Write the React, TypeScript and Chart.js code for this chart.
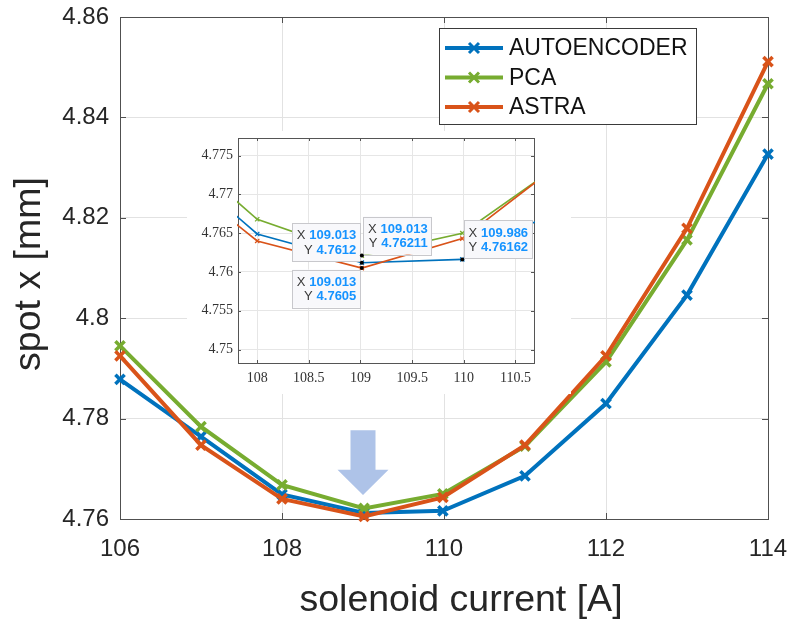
import React, { useEffect, useRef } from 'react';
import { Chart, registerables } from 'chart.js';

Chart.register(...registerables);

// ---------------- data ----------------
const currents = [106, 107, 108, 109.013, 109.986, 111, 112, 113, 114];
const autoencoder = [4.7878, 4.7764, 4.7649, 4.7612, 4.76162, 4.7686, 4.783, 4.8046, 4.8327];
const pca = [4.7945, 4.7784, 4.7668, 4.76211, 4.765, 4.7745, 4.7913, 4.8156, 4.8467];
const astra = [4.7925, 4.7747, 4.764, 4.7605, 4.7643, 4.7747, 4.7925, 4.8179, 4.8511];

const seriesNames = ['AUTOENCODER', 'PCA', 'ASTRA'];
const seriesValues = [autoencoder, pca, astra];
const seriesColors = ['#0072BD', '#77AC30', '#D95319'];
const seriesOrder = [2, 1, 0];

const mainXTicks = [106, 108, 110, 112, 114];
const mainYTicks = [4.76, 4.78, 4.8, 4.82, 4.84, 4.86];
const insetXTicks = [108, 108.5, 109, 109.5, 110, 110.5];
const insetYTicks = [4.75, 4.755, 4.76, 4.765, 4.77, 4.775];

const xTitle = 'solenoid current [A]';
const yTitle = 'spot x [mm]';

// data tips shown in the inset (value pairs + which side the box sits)
const tipX = [109.013, 109.013, 109.013, 109.986];
const tipY = [4.7612, 4.76211, 4.7605, 4.76162];
const tipSide = ['upLeft', 'upRight', 'downLeft', 'upRight'];

// arrow annotation (data coords)
const arrowX = 109;
const arrowTop = 4.7777;
const arrowHead = 4.7698;
const arrowTip = 4.7648;

const SANS = '"Liberation Sans", Arial, Helvetica, sans-serif';
const SERIF = '"Liberation Serif", "Times New Roman", serif';
const TEXT = '#262626';

function fmt(v: number, d: number) {
  return String(Number(v.toFixed(d)));
}

function zeroPad(s: any) {
  s.paddingLeft = 0;
  s.paddingRight = 0;
  s.paddingTop = 0;
  s.paddingBottom = 0;
}

function boxTicksPlugin(id: string, xt: number[], yt: number[], len: number, color: string) {
  return {
    id,
    beforeDatasetsDraw(chart: any) {
      const { ctx, chartArea: a, scales } = chart;
      ctx.save();
      ctx.strokeStyle = color;
      ctx.lineWidth = 1;
      ctx.beginPath();
      for (const v of xt) {
        const x = Math.round(scales.x.getPixelForValue(v)) + 0.5;
        ctx.moveTo(x, a.bottom);
        ctx.lineTo(x, a.bottom - len);
        ctx.moveTo(x, a.top);
        ctx.lineTo(x, a.top + len);
      }
      for (const v of yt) {
        const y = Math.round(scales.y.getPixelForValue(v)) + 0.5;
        ctx.moveTo(a.left, y);
        ctx.lineTo(a.left + len, y);
        ctx.moveTo(a.right, y);
        ctx.lineTo(a.right - len, y);
      }
      ctx.stroke();
      ctx.strokeRect(Math.round(a.left) + 0.5, Math.round(a.top) + 0.5, Math.round(a.right - a.left), Math.round(a.bottom - a.top));
      ctx.restore();
    },
  };
}

const arrowPlugin = {
  id: 'arrow',
  beforeDatasetsDraw(chart: any) {
    const { ctx, scales } = chart;
    const x = scales.x.getPixelForValue(arrowX);
    const y0 = scales.y.getPixelForValue(arrowTop);
    const y1 = scales.y.getPixelForValue(arrowHead);
    const y2 = scales.y.getPixelForValue(arrowTip);
    ctx.save();
    ctx.fillStyle = '#aec3e8';
    ctx.beginPath();
    ctx.moveTo(x - 12.5, y0);
    ctx.lineTo(x + 12.5, y0);
    ctx.lineTo(x + 12.5, y1);
    ctx.lineTo(x + 25.5, y1);
    ctx.lineTo(x, y2);
    ctx.lineTo(x - 25.5, y1);
    ctx.lineTo(x - 12.5, y1);
    ctx.closePath();
    ctx.fill();
    ctx.restore();
  },
};

const titlesPlugin = {
  id: 'titles',
  afterDraw(chart: any) {
    const { ctx, chartArea: a } = chart;
    ctx.save();
    ctx.fillStyle = TEXT;
    ctx.font = `37.5px ${SANS}`;
    ctx.textAlign = 'center';
    ctx.textBaseline = 'alphabetic';
    ctx.fillText(xTitle, (a.left + a.right) / 2 + 17, 611);
    ctx.translate(40, (a.top + a.bottom) / 2 + 6);
    ctx.rotate(-Math.PI / 2);
    ctx.fillText(yTitle, 0, 0);
    ctx.restore();
  },
};

const legendPlugin = {
  id: 'customLegend',
  afterDraw(chart: any) {
    const { ctx, chartArea: a } = chart;
    const left = a.right - 329;
    const top = a.top + 11;
    const w = 257;
    const h = 96;
    ctx.save();
    ctx.fillStyle = '#ffffff';
    ctx.fillRect(left, top, w, h);
    ctx.strokeStyle = '#3a3a3a';
    ctx.lineWidth = 1;
    ctx.strokeRect(Math.round(left) + 0.5, Math.round(top) + 0.5, w, h);
    chart.data.datasets.forEach((ds: any, i: number) => {
      const y = top + 20 + i * 29.5;
      ctx.strokeStyle = ds.borderColor;
      ctx.lineWidth = 4;
      ctx.beginPath();
      ctx.moveTo(left + 6, y);
      ctx.lineTo(left + 64, y);
      ctx.stroke();
      ctx.lineWidth = 3;
      const r = 5;
      const cx = left + 35;
      ctx.beginPath();
      ctx.moveTo(cx - r, y - r);
      ctx.lineTo(cx + r, y + r);
      ctx.moveTo(cx + r, y - r);
      ctx.lineTo(cx - r, y + r);
      ctx.stroke();
      ctx.fillStyle = '#111';
      ctx.font = `23px ${SANS}`;
      ctx.textAlign = 'left';
      ctx.textBaseline = 'middle';
      ctx.fillText(ds.label, left + 70, y + 1);
    });
    ctx.restore();
  },
};

const dataTipPlugin = {
  id: 'dataTips',
  afterDraw(chart: any) {
    const { ctx, scales } = chart;
    ctx.save();
    const labFont = `13px ${SANS}`;
    const valFont = `bold 13px ${SANS}`;
    tipX.forEach((xv, i) => {
      const yv = tipY[i];
      const px = scales.x.getPixelForValue(xv);
      const py = scales.y.getPixelForValue(yv);
      const rows = [
        ['X', String(xv)],
        ['Y', String(yv)],
      ];
      ctx.font = labFont;
      const sp = ctx.measureText('X ').width;
      ctx.font = valFont;
      const widths = rows.map((r) => ctx.measureText(r[1]).width);
      const bw = Math.max(...widths) + sp + 9;
      const bh = 38;
      const side = tipSide[i];
      let bx = 0;
      let by = 0;
      if (side === 'upLeft') {
        bx = px - 1.5 - bw;
        by = py - 1.5 - bh;
      } else if (side === 'upRight') {
        bx = px + 1.5;
        by = py - 1 - bh;
      } else {
        bx = px - 1.5 - bw;
        by = py + 1.5;
      }
      ctx.fillStyle = '#f8f8fb';
      ctx.fillRect(bx, by, bw, bh);
      ctx.strokeStyle = '#c8c8cc';
      ctx.lineWidth = 1;
      ctx.strokeRect(Math.round(bx) + 0.5, Math.round(by) + 0.5, Math.round(bw), bh);
      const right = bx + bw - 4;
      rows.forEach((r, k) => {
        const ly = by + 12.5 + k * 14.5;
        ctx.textBaseline = 'middle';
        ctx.textAlign = 'right';
        ctx.font = valFont;
        ctx.fillStyle = '#1593ff';
        ctx.fillText(r[1], right, ly);
        ctx.font = labFont;
        ctx.fillStyle = '#3a3a3a';
        ctx.fillText(r[0], right - widths[k] - 4, ly);
      });
      ctx.fillStyle = '#000';
      ctx.beginPath();
      ctx.arc(px, py, 2, 0, Math.PI * 2);
      ctx.fill();
    });
    ctx.restore();
  },
};

function makeDatasets(main: boolean) {
  return seriesNames.map((name, i) => ({
    label: name,
    data: currents.map((x, j) => ({ x, y: seriesValues[i][j] })),
    borderColor: seriesColors[i],
    backgroundColor: seriesColors[i],
    borderWidth: main ? 4 : 1.6,
    pointStyle: 'crossRot',
    pointRadius: main ? 6.5 : 3,
    pointHoverRadius: main ? 6.5 : 3,
    pointBorderWidth: main ? 3.5 : 1.3,
    tension: 0,
    order: seriesOrder[i],
    clip: main ? false : 1,
  }));
}

export default function App() {
  const mainRef = useRef<HTMLCanvasElement>(null);
  const insetRef = useRef<HTMLCanvasElement>(null);

  useEffect(() => {
    const main = new Chart(mainRef.current as HTMLCanvasElement, {
      type: 'line',
      data: { datasets: makeDatasets(true) as any },
      options: {
        responsive: false,
        animation: false,
        events: [],
        layout: { autoPadding: false, padding: { left: 0, right: 24, top: 17, bottom: 0 } },
        plugins: { legend: { display: false }, tooltip: { enabled: false } },
        scales: {
          x: {
            type: 'linear',
            min: 106,
            max: 114,
            afterBuildTicks: (s: any) => {
              s.ticks = mainXTicks.map((value) => ({ value }));
            },
            afterFit: (s: any) => {
              s.height = 102;
              zeroPad(s);
            },
            grid: { color: '#e2e2e2', drawTicks: false },
            border: { display: false },
            ticks: {
              padding: 16,
              color: TEXT,
              font: { family: SANS, size: 24 },
              callback: (v: any) => fmt(Number(v), 0),
            },
          },
          y: {
            type: 'linear',
            min: 4.76,
            max: 4.86,
            afterBuildTicks: (s: any) => {
              s.ticks = mainYTicks.map((value) => ({ value }));
            },
            afterFit: (s: any) => {
              s.width = 120;
              zeroPad(s);
            },
            grid: { color: '#e2e2e2', drawTicks: false },
            border: { display: false },
            ticks: {
              padding: 11,
              color: TEXT,
              font: { family: SANS, size: 24 },
              callback: (v: any) => fmt(Number(v), 2),
            },
          },
        },
      } as any,
      plugins: [boxTicksPlugin('mainBox', mainXTicks, mainYTicks, 6, '#505050'), arrowPlugin, legendPlugin, titlesPlugin],
    });

    const inset = new Chart(insetRef.current as HTMLCanvasElement, {
      type: 'line',
      data: { datasets: makeDatasets(false) as any },
      options: {
        responsive: false,
        animation: false,
        events: [],
        layout: { autoPadding: false, padding: { left: 0, right: 37, top: 7, bottom: 0 } },
        plugins: { legend: { display: false }, tooltip: { enabled: false } },
        scales: {
          x: {
            type: 'linear',
            min: 107.814,
            max: 110.68,
            afterBuildTicks: (s: any) => {
              s.ticks = insetXTicks.map((value) => ({ value }));
            },
            afterFit: (s: any) => {
              s.height = 31;
              zeroPad(s);
            },
            grid: { color: '#e6e6e6', drawTicks: false },
            border: { display: false },
            ticks: {
              padding: 7,
              color: '#333',
              font: { family: SERIF, size: 14 },
              callback: (v: any) => fmt(Number(v), 1),
            },
          },
          y: {
            type: 'linear',
            min: 4.74827,
            max: 4.77727,
            afterBuildTicks: (s: any) => {
              s.ticks = insetYTicks.map((value) => ({ value }));
            },
            afterFit: (s: any) => {
              s.width = 51;
              zeroPad(s);
            },
            grid: { color: '#e6e6e6', drawTicks: false },
            border: { display: false },
            ticks: {
              padding: 5,
              color: '#333',
              font: { family: SERIF, size: 14 },
              callback: (v: any) => fmt(Number(v), 3),
            },
          },
        },
      } as any,
      plugins: [boxTicksPlugin('insetBox', insetXTicks, insetYTicks, 3, '#555555'), dataTipPlugin],
    });

    return () => {
      main.destroy();
      inset.destroy();
    };
  }, []);

  return (
    <div style={{ position: 'absolute', left: 0, top: 0, width: 792, height: 621, background: '#ffffff' }}>
      <canvas ref={mainRef} width={792} height={621} style={{ position: 'absolute', left: 0, top: 0 }} />
      <canvas
        ref={insetRef}
        width={384}
        height={263}
        style={{ position: 'absolute', left: 187, top: 131, background: '#ffffff' }}
      />
    </div>
  );
}
